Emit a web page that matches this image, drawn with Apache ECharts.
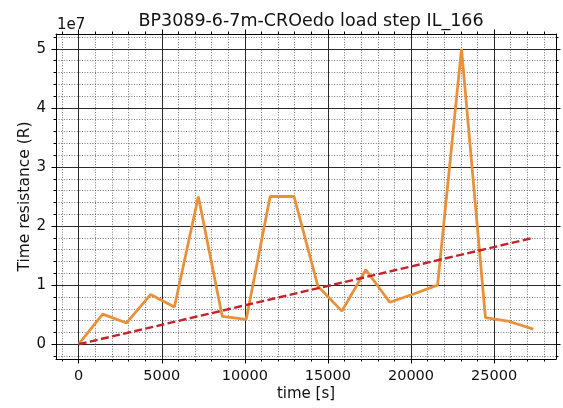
<!DOCTYPE html>
<html>
<head>
<meta charset="utf-8">
<script src="https://cdn.jsdelivr.net/npm/echarts@6/dist/echarts.min.js"></script>
<style>
html,body{margin:0;padding:0;background:#fff;}
#c{width:563px;height:408px;}
</style>
</head>
<body>
<div id="c"></div>
<script>
// ---- data ----
const timeS = [0, 1440, 2880, 4320, 5760, 7200, 8640, 10080, 11520, 12960,
               14400, 15840, 17280, 18720, 20160, 21600, 23040, 24480, 25920, 27360];
const resistance = [0, 5100000, 3600000, 8400000, 6300000, 25000000, 4700000, 4200000, 25000000, 25000000,
                    9800000, 5600000, 12600000, 7100000, 8500000, 10000000, 50000000, 4500000, 3850000, 2550000];
const trendTime = [0, 27360];
const trendValues = [0, 18000000];

const xMajorTicks = [0, 5000, 10000, 15000, 20000, 25000];
const xTickLabels = ['0', '5000', '10000', '15000', '20000', '25000'];
const xMinorTicks = [-1000, 1000, 2000, 3000, 4000, 6000, 7000, 8000, 9000, 11000, 12000, 13000, 14000,
                     16000, 17000, 18000, 19000, 21000, 22000, 23000, 24000, 26000, 27000, 28000];
const yMajorTicks = [0, 10000000, 20000000, 30000000, 40000000, 50000000];
const yTickLabels = ['0', '1', '2', '3', '4', '5'];
const yMinorTicks = [-2000000, 2000000, 4000000, 6000000, 8000000, 12000000, 14000000, 16000000, 18000000,
                     22000000, 24000000, 26000000, 28000000, 32000000, 34000000, 36000000, 38000000,
                     42000000, 44000000, 46000000, 48000000, 52000000];

const titleText = 'BP3089-6-7m-CROedo load step IL_166';
const xName = 'time [s]';
const yName = 'Time resistance (R)';
const yScaleText = '1e7';

const X_MIN = -1368, X_MAX = 28728;
const Y_MIN = -2500000, Y_MAX = 52500000;

const FONT = 'DejaVu Sans';
const majorLine = {color: '#2a2a2a', width: 1};
const minorLine = {color: '#555', width: 0.8, type: [1, 1.6]};

function xAx(pos, major, withLabels) {
  return {
    type: 'value', min: X_MIN, max: X_MAX, position: pos,
    axisLine: {show: major, onZero: false, lineStyle: {color: '#000', width: 1}},
    axisTick: {show: true, inside: false, length: major ? 4.5 : 2.5,
               customValues: major ? xMajorTicks : xMinorTicks, lineStyle: {color: '#000', width: 1}},
    axisLabel: withLabels ? {show: true, customValues: xMajorTicks, margin: 10, fontSize: 14.5,
               fontFamily: FONT, color: '#111',
               formatter: v => xTickLabels[xMajorTicks.indexOf(v)]} : {show: false},
    splitLine: (pos === 'bottom') ? {show: true, lineStyle: major ? majorLine : minorLine} : {show: false},
    name: withLabels ? xName : '', nameLocation: 'middle', nameGap: 28, nameMoveOverlap: false,
    nameTextStyle: {fontSize: 15, fontFamily: FONT, color: '#111'}
  };
}
function yAx(pos, major, withLabels) {
  return {
    type: 'value', min: Y_MIN, max: Y_MAX, position: pos,
    axisLine: {show: major, onZero: false, lineStyle: {color: '#000', width: 1}},
    axisTick: {show: true, inside: false, length: major ? 4.5 : 2.5,
               customValues: major ? yMajorTicks : yMinorTicks, lineStyle: {color: '#000', width: 1}},
    axisLabel: withLabels ? {show: true, customValues: yMajorTicks, margin: 10, fontSize: 15,
               fontFamily: FONT, color: '#111',
               formatter: v => yTickLabels[yMajorTicks.indexOf(v)]} : {show: false},
    splitLine: (pos === 'left') ? {show: true, lineStyle: major ? majorLine : minorLine} : {show: false},
    name: withLabels ? yName : '', nameLocation: 'middle', nameGap: 23, nameMoveOverlap: false,
    nameTextStyle: {fontSize: 15.5, fontFamily: FONT, color: '#111'}
  };
}

const chart = echarts.init(document.getElementById('c'), null, {renderer: 'canvas'});
chart.setOption({
  animation: false,
  backgroundColor: '#fff',
  title: {text: titleText, left: 306, top: 7, textAlign: 'center',
          textStyle: {fontSize: 17.5, fontWeight: 'normal', fontFamily: FONT, color: '#111'}},
  grid: {left: 56, right: 7, top: 34, bottom: 49, containLabel: false},
  xAxis: [xAx('bottom', false, false), xAx('bottom', true, true), xAx('top', false, false), xAx('top', true, false)],
  yAxis: [yAx('left', false, false), yAx('left', true, true), yAx('right', false, false), yAx('right', true, false)],
  graphic: [{type: 'text', left: 57, top: 18,
             style: {text: yScaleText, font: '15px "DejaVu Sans"', fill: '#111'}}],
  series: [
    {type: 'line', xAxisIndex: 1, yAxisIndex: 1, data: timeS.map((t, i) => [t, resistance[i]]),
     showSymbol: false, lineStyle: {color: '#e8913a', width: 2.8}, z: 3},
    {type: 'line', xAxisIndex: 1, yAxisIndex: 1, data: trendTime.map((t, i) => [t, trendValues[i]]),
     showSymbol: false, lineStyle: {color: '#c4232a', width: 2.4, type: [8, 3.4]}, z: 4}
  ]
});
</script>
</body>
</html>
